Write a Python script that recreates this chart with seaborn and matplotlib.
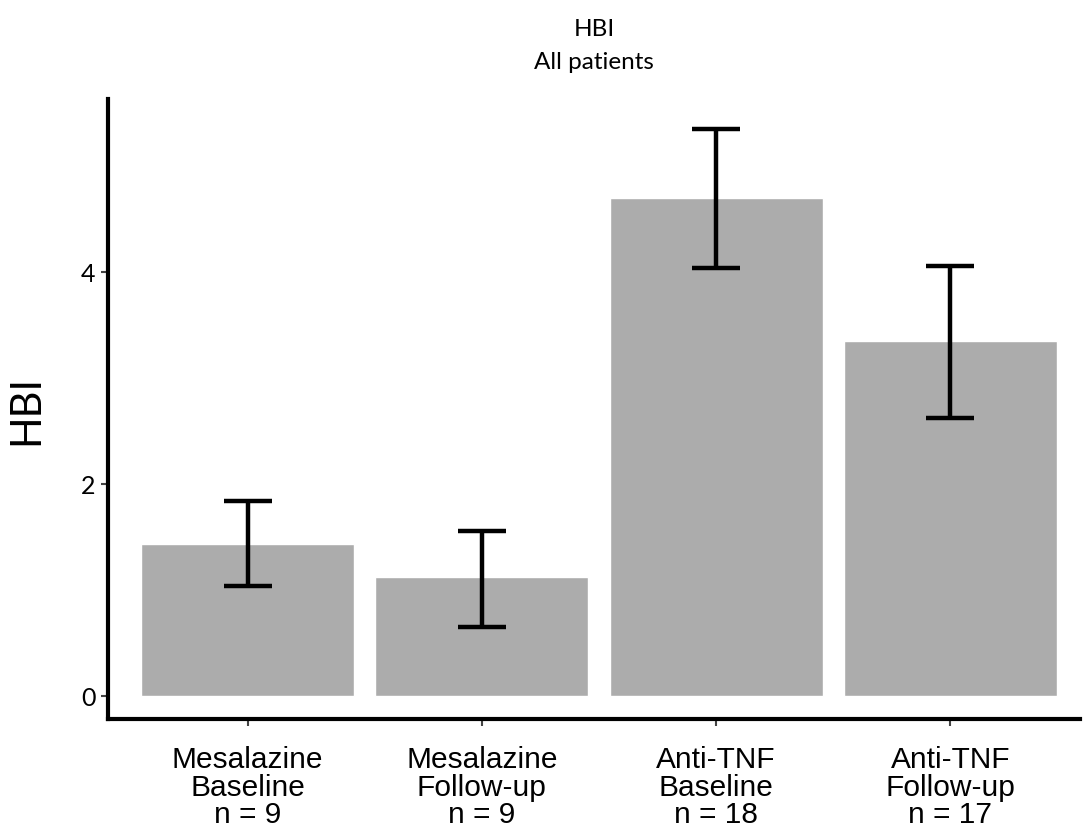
import matplotlib
matplotlib.use("Agg")
import matplotlib.pyplot as plt
import seaborn as sns
import pandas as pd
import numpy as np

groups = ["Mesalazine\nBaseline\nn = 9", "Mesalazine\nFollow-up\nn = 9",
          "Anti-TNF\nBaseline\nn = 18", "Anti-TNF\nFollow-up\nn = 17"]
means = [1.43, 1.12, 4.70, 3.35]
err_low = [1.04, 0.65, 4.04, 2.62]
err_high = [1.84, 1.56, 5.35, 4.05]

sns.set_theme(style="white")
df = pd.DataFrame({"group": groups, "HBI": means})

fig = plt.figure(figsize=(10.86, 8.29), dpi=100)
ax = fig.add_axes([0.0994, 0.1315, 0.895, 0.748])

sns.barplot(data=df, x="group", y="HBI", color="#acacac", width=0.91,
            saturation=1, errorbar=None, ax=ax)
x = np.arange(len(groups))
m = np.array(means)
yerr = np.vstack([m - np.array(err_low), np.array(err_high) - m])
ax.errorbar(x, m, yerr=yerr, fmt="none", ecolor="black", elinewidth=3.2,
            capsize=17, capthick=3.2)

ax.set_xlim(-0.596, 3.553)
ax.set_ylim(-0.217, 5.63)
ax.set_yticks([0, 2, 4])
ax.set_yticklabels(["0", "2", "4"], fontsize=18, family="Lato", color="black")
ax.set_xticks(x)
ax.set_xticklabels(groups, fontsize=21.5, family="Liberation Sans", linespacing=0.97,
                   color="black")
ax.tick_params(axis="both", length=5, width=1.5, color="#444444", direction="out",
               left=True, bottom=True)
ax.tick_params(axis="x", pad=14)
ax.tick_params(axis="y", pad=4)
ax.set_xlabel("")
ax.set_ylabel("HBI", fontsize=30, family="Lato", color="black")
ax.yaxis.set_label_coords(-0.065, 0.5)
ax.set_title("HBI\nAll patients", fontsize=17.5, family="Lato", pad=22,
             linespacing=1.75, color="black")

for s in ["top", "right"]:
    ax.spines[s].set_visible(False)
for s in ["left", "bottom"]:
    ax.spines[s].set_color("black")
    ax.spines[s].set_linewidth(3)

fig.savefig("out.png", dpi=100)
